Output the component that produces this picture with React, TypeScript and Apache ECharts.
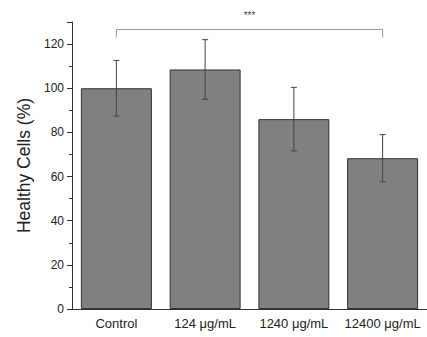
import React, { useEffect, useRef } from "react";
import * as echarts from "echarts";

const categories = ["Control", "124 μg/mL", "1240 μg/mL", "12400 μg/mL"];
const means = [100, 108.5, 86, 68.3];
const errors = [12.6, 13.5, 14.4, 10.7];
const yTicks = [0, 20, 40, 60, 80, 100, 120];
const yMax = 130;
const bracketFrom = 0;
const bracketTo = 3;
const bracketTop = 126.6;
const bracketEnd = 123;
const bracketLabel = "***";

export default function App() {
  const ref = useRef<HTMLDivElement>(null);
  useEffect(() => {
    if (!ref.current) return;
    const chart = echarts.init(ref.current, null, { renderer: "svg" });
    const font = "Liberation Sans, Arial, sans-serif";
    const errData = means.map((m, i) => [i, m - errors[i], m + errors[i]]);
    chart.setOption({
      animation: false,
      backgroundColor: "#fff",
      grid: { left: 72, top: 22, width: 360, height: 287 },
      xAxis: {
        type: "category",
        data: categories,
        axisLine: { lineStyle: { color: "#333", width: 1 } },
        axisTick: { alignWithLabel: true, length: 4, lineStyle: { color: "#333" } },
        axisLabel: { color: "#222", fontSize: 13, fontFamily: font, margin: 8, interval: 0 },
        splitLine: { show: false },
      },
      yAxis: {
        type: "value",
        min: yTicks[0],
        max: yMax,
        interval: 20,
        name: "Healthy Cells (%)",
        nameLocation: "middle",
        nameRotate: 90,
        nameGap: 37,
        nameTextStyle: { fontSize: 17.5, color: "#222", fontFamily: font },
        axisLine: { show: true, lineStyle: { color: "#333", width: 1 } },
        axisTick: { show: true, length: 5, lineStyle: { color: "#333" } },
        minorTick: { show: true, splitNumber: 2, length: 3, lineStyle: { color: "#333" } },
        axisLabel: {
          color: "#222",
          fontSize: 12,
          fontFamily: font,
          margin: 8,
          showMaxLabel: false,
          formatter: (v: number) => (yTicks.includes(v) ? String(v) : ""),
        },
        splitLine: { show: false },
      },
      series: [
        {
          type: "bar",
          data: means,
          barCategoryGap: "20%",
          itemStyle: { color: "#808080", borderColor: "#333", borderWidth: 1 },
        },
        {
          type: "custom",
          data: errData,
          z: 10,
          renderItem: (params: any, api: any) => {
            const x = api.value(0);
            const lo = api.coord([x, api.value(1)]);
            const hi = api.coord([x, api.value(2)]);
            const w = 3;
            const st = { stroke: "#444", lineWidth: 1 };
            return {
              type: "group",
              children: [
                { type: "line", shape: { x1: lo[0], y1: lo[1], x2: hi[0], y2: hi[1] }, style: st },
                { type: "line", shape: { x1: lo[0] - w, y1: lo[1], x2: lo[0] + w, y2: lo[1] }, style: st },
                { type: "line", shape: { x1: hi[0] - w, y1: hi[1], x2: hi[0] + w, y2: hi[1] }, style: st },
              ],
            };
          },
        },
        {
          type: "custom",
          data: [[bracketFrom, bracketTo, bracketTop, bracketEnd]],
          z: 10,
          clip: false,
          renderItem: (params: any, api: any) => {
            const a = api.coord([api.value(0), api.value(2)]);
            const b = api.coord([api.value(1), api.value(2)]);
            const e = api.coord([api.value(0), api.value(3)]);
            const st = { stroke: "#999", lineWidth: 1, fill: "none" };
            return {
              type: "group",
              children: [
                {
                  type: "polyline",
                  shape: { points: [[a[0], e[1]], [a[0], a[1]], [b[0], b[1]], [b[0], e[1]]] },
                  style: st,
                },
                {
                  type: "text",
                  x: (a[0] + b[0]) / 2,
                  y: a[1] - 14,
                  style: {
                    text: bracketLabel,
                    fill: "#444",
                    fontSize: 10,
                    fontFamily: font,
                    align: "center",
                    verticalAlign: "middle",
                  },
                },
              ],
            };
          },
        },
      ],
    });
    return () => chart.dispose();
  }, []);
  return (
    <div
      ref={ref}
      style={{ position: "fixed", left: 0, top: 0, width: 427, height: 337, background: "#fff" }}
    />
  );
}
